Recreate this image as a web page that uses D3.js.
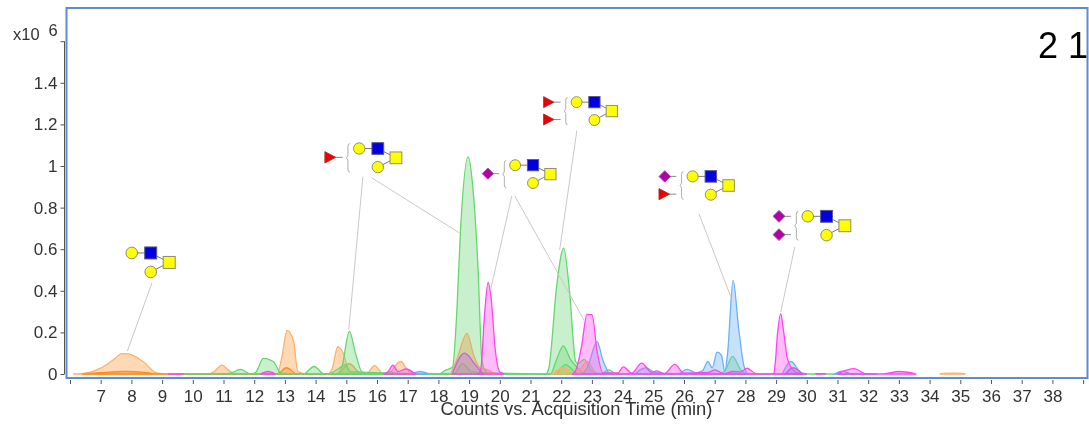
<!DOCTYPE html>
<html><head><meta charset="utf-8">
<script src="https://cdn.jsdelivr.net/npm/d3@7/dist/d3.min.js"></script>
<style>html,body{margin:0;padding:0;background:#fff;overflow:hidden}svg{display:block}
text{font-family:"Liberation Sans",Arial,sans-serif}</style></head><body>
<script>
// Tick labels
const xTicks = d3.range(6, 40);
const yTicks = [0, 0.2, 0.4, 0.6, 0.8, 1, 1.2, 1.4, 1.6];

// Chromatogram traces: [minutes, counts x10^6]; null marks a gap in a trace
const orangeMain = [[6.1,0],[6.5,.004],[7,.028],[7.4,.067],[7.7,.098],[7.9,.097],[8.38,.06],[8.83,.005],[9.2,0],[10.5,0],[10.7,.012],[10.95,.043],[11.15,.02],[11.4,0],[12.75,0],[12.9,.08],[13.07,.21],[13.28,.16],[13.42,.012],[13.7,0],[14.4,0],[14.55,.03],[14.72,.132],[14.9,.1],[15.1,.012],[15.3,0],[15.65,0],[15.92,.04],[16.2,.002],[16.45,.01],[16.62,.045],[16.78,.06],[17,.018],[17.3,0],[18.3,0]];
const orangeLow = [[6.4,0],[7,.006],[7.8,.012],[8.4,.008],[8.9,0],[12.75,0],[13.05,.03],[13.4,0],[14.7,0],[15.1,.05],[15.45,.004],[15.7,0]];
const orangeMid = [[18.4,0],[18.6,.07],[18.93,.195],[19.15,.09],[19.35,.03],[19.6,.02],[19.85,0]];
const orangeLate = [[21.7,0],[22.1,.03],[22.45,0],[22.6,.02],[22.85,.06],[23.1,.01],[23.3,0]];
const orangeTail = [[34.35,.002],[34.8,.004],[35.15,.002]];

const greenMain = [[9.7,0],[10.1,0],[11,0],[11.25,.005],[11.55,.022],[11.9,0],[12.05,.008],[12.3,.075],[12.62,.06],[12.88,.004],[13.6,0],[13.95,.036],[14.28,0],[14.7,.002],[14.85,.03],[15.1,.205],[15.3,.1],[15.5,.012],[15.7,0],[16.3,0],[16.45,.014],[16.6,0],[18,0],[18.25,.02],[18.46,.032],[18.6,.3],[18.72,.69],[18.97,1.045],[19.12,.9],[19.29,.51],[19.41,.08],[19.5,.02],[19.7,.002],[21.5,0],[21.6,.03],[21.85,.42],[22.08,.605],[22.27,.4],[22.47,.06],[22.55,.05],[22.75,.07],[23,.012],[23.3,.002],[23.55,.02],[23.8,0],[32.1,0]];
const greenB = [[14.45,0],[14.75,.025],[14.95,.045],[15.15,.01],[18.5,0],[18.78,.05],[19.1,.01],[21.65,0],[21.85,.07],[22.07,.135],[22.3,.07],[22.5,.035],[22.75,0]];
const greenC = [[21.85,0],[22.15,.045],[22.45,.01],[22.7,0],null,[27.2,0],[27.35,.02],[27.58,.085],[27.85,.02],[28.05,0]];

const blueMain = [[17.1,0],[17.4,.012],[17.7,0],null,[22.7,0],[22.85,.03],[23.17,.155],[23.35,.07],[23.55,.002],null,[24.4,0],[24.75,.03],[25.05,.008],[25.8,.002],[26.1,.022],[26.4,.006],[26.6,.015],[26.78,.06],[26.92,.03],[27.08,.105],[27.22,.09],[27.33,.012],[27.42,.1],[27.6,.45],[27.78,.22],[27.95,.04],[28.06,0],null,[29.2,0],[29.48,.06],[29.8,.008],[30,0],null,[30.9,0],[31.15,.014],[31.5,0],[32.3,0]];

const magentaMain = [[12.2,0],[12.45,.012],[12.7,0],null,[16.2,0],[16.35,.01],[16.52,.042],[16.68,.012],[16.95,.024],[17.25,0],null,[19.3,0],[19.38,.02],[19.5,.28],[19.62,.44],[19.72,.36],[19.85,.12],[20,.01],[20.15,0],null,[22.35,0],[22.45,.01],[22.66,.13],[22.84,.287],[23,.285],[23.18,.1],[23.36,.005],[23.85,.005],[24.02,.034],[24.3,.004],[24.62,.052],[24.95,.008],[25.12,.015],[25.35,.001],[25.7,.046],[26,.004],[26.8,.008],[27,.02],[27.3,.002],[27.6,.012],[27.85,.01],[28.05,.028],[28.35,.002],[28.9,0],[28.95,.02],[29.05,.2],[29.15,.29],[29.24,.21],[29.36,.08],[29.5,.03],[29.75,.004],[30,0],null,[30.3,.002],[30.6,.002],null,[31,.002],[31.55,.026],[31.9,.002],[32.5,.001],[33,.012],[33.55,.001]];
const magentaB = [[18.45,0],[18.85,.1],[19.2,.045],[19.45,0],null,[29.3,0],[29.55,.03],[29.85,0]];
const magentaDash = [[9.2,0],[9.7,0]];

// Glycan annotations anchored in chart units
const substituentSets = [[], ["fuc"], ["neu"], ["fuc","fuc"], ["neu","fuc"], ["neu","neu"]];
const glycanTimes = [8.01, 15.42, 20.5, 22.5, 26.28, 30.03];
const glycanLevels = [.582, 1.084, 1.004, 1.307, .95, .758];
const glycanScales = [1, .98, .94, .94, .96, .99];
const leaderTimes = [[8.67,7.87],[15.54,15.08],[15.83,18.69],[20.39,19.7],[20.49,22.74],[22.51,21.95],[26.49,27.53],[29.61,29.15]];
const leaderLevels = [[.438,.111],[.948,.212],[.943,.678],[.856,.404],[.856,.26],[1.17,.596],[.77,.369],[.611,.298]];
const cornerLabel = "2 1";
const xTitle = "Counts vs. Acquisition Time (min)";

const W = 1089, H = 424;
const x = d3.scaleLinear().domain([6, 39]).range([70.0, 1083.1]);
const y = d3.scaleLinear().domain([0, 1.6]).range([374, 41.2]);

const svg = d3.select("body").append("svg").attr("width", W).attr("height", H);
const defs = svg.append("defs");
defs.append("filter").attr("id","soft").attr("x","-5%").attr("y","-5%").attr("width","110%").attr("height","110%")
  .append("feGaussianBlur").attr("stdDeviation", .55);
defs.append("clipPath").attr("id","frameClip").append("rect").attr("x",0).attr("y",0).attr("width",1087).attr("height",H);

const root = svg.append("g").attr("filter","url(#soft)");

// frame
root.append("rect").attr("x",66.5).attr("y",8).attr("width",1021).attr("height",370)
  .attr("fill","#fff").attr("stroke","#5f8bd6").attr("stroke-width",2);

// axes
const gx = root.append("g").attr("transform","translate(0,380)")
  .call(d3.axisBottom(x).tickValues(xTicks).tickSize(4).tickPadding(6).tickFormat(d => (d>=7 && d<=38) ? d : ""));
gx.select(".domain").remove();
gx.selectAll("line").attr("stroke","#555");
gx.selectAll("text").attr("font-size",17).attr("fill","#333").style("font-family",'"Liberation Sans"');

const gy = root.append("g").attr("transform","translate(64.5,0)")
  .call(d3.axisLeft(y).tickValues(yTicks).tickSize(4).tickPadding(3).tickFormat(d => d===1.6 ? "" : d));
gy.select(".domain").attr("stroke","#555").attr("d",`M0,${y(1.6)}V${y(0)}`);
gy.selectAll("line").attr("stroke","#555");
gy.selectAll("text").attr("font-size",17).attr("fill","#333").style("font-family",'"Liberation Sans"');

const xLabel = root.append("text").attr("y",40).attr("font-size",16.5).attr("fill","#333");
xLabel.append("tspan").attr("x",13).text("x10");
xLabel.append("tspan").attr("x",48.5).attr("y",36).text("6");

root.append("text").attr("x",576.5).attr("y",415).attr("text-anchor","middle").attr("font-size",18.4).attr("fill","#333").text(xTitle);

root.append("text").attr("x",1038).attr("y",58).attr("font-size",36).attr("fill","#000").attr("clip-path","url(#frameClip)").text(cornerLabel);

// traces
const area = d3.area().defined(d=>d).x(d=>x(d[0])).y0(y(0)).y1(d=>y(d[1])).curve(d3.curveMonotoneX);
const orange = {fill:"#ffa550", stroke:"#ffb066"};
const green = {fill:"#7fdc85", stroke:"#66d66e"};
const blue = {fill:"#7db8f5", stroke:"#6bb2f7"};
const magenta = {fill:"#ff60ee", stroke:"#ff45ee"};
const layers = [
  [orangeMain,orange],[orangeLow,{fill:"#ff9a3c",stroke:"#ff8c1a"}],[orangeTail,orange],
  [greenMain,green],[greenB,green],[greenC,green],
  [orangeMid,{fill:"#e0a860",stroke:"#e8ae60"}],[orangeLate,orange],
  [blueMain,blue],[magentaMain,magenta],[magentaB,{fill:"#c070d8",stroke:"#c860e0"}],[magentaDash,magenta]
];
root.append("g").selectAll("path").data(layers).join("path")
  .attr("d",d=>area(d[0]))
  .attr("fill",d=>d[1].fill).attr("fill-opacity",.42)
  .attr("stroke",d=>d[1].stroke).attr("stroke-width",1.3);

// leaders
const leaders = leaderTimes.map((t,i)=>({t,v:leaderLevels[i]}));
root.append("g").selectAll("line").data(leaders).join("line")
  .attr("x1",d=>x(d.t[0])).attr("x2",d=>x(d.t[1]))
  .attr("y1",d=>y(d.v[0])).attr("y2",d=>y(d.v[1]))
  .attr("stroke","#c9c9c9").attr("stroke-width",1);

// glycans
const ink = "#8a8a70";
function glycan(g, subs){
  g.append("path").attr("d","M0,0H19L37.5,9.5L19,19").attr("fill","none").attr("stroke","#777").attr("stroke-width",1);
  const circ=(cx,cy)=>g.append("circle").attr("cx",cx).attr("cy",cy).attr("r",5.8).attr("fill","#ffff00").attr("stroke",ink);
  circ(0,0); circ(19,19);
  g.append("rect").attr("x",13).attr("y",-6).attr("width",12).attr("height",12).attr("fill","#0000e0").attr("stroke","#5a5a90");
  g.append("rect").attr("x",31.5).attr("y",3.5).attr("width",12).attr("height",12).attr("fill","#ffff00").attr("stroke",ink);
  if(!subs.length) return;
  const ys = subs.length===1 ? [9] : [0,18.5];
  g.append("path").attr("d",`M-9.5,-5Q-11.5,-5 -11.5,-2V7L-13,9.5L-11.5,12V21Q-11.5,24 -9.5,24`).attr("fill","none").attr("stroke","#aaa").attr("stroke-width",1);
  subs.forEach((s,i)=>{
    const sy=ys[i];
    g.append("line").attr("x1",-29).attr("x2",-17).attr("y1",sy).attr("y2",sy).attr("stroke","#888");
    if(s==="fuc") g.append("path").attr("d",`M-35,${sy-5.8}L-24,${sy}L-35,${sy+5.8}Z`).attr("fill","#ee0000").attr("stroke","#a33");
    else g.append("path").attr("d",`M-29,${sy-6}L-23,${sy}L-29,${sy+6}L-35,${sy}Z`).attr("fill","#b000a8").attr("stroke","#a050a0");
  });
}
glycanTimes.forEach((t,i)=>{
  const g=root.append("g").attr("transform",`translate(${x(t)},${y(glycanLevels[i])}) scale(${glycanScales[i]})`);
  glycan(g,substituentSets[i]);
});
</script></body></html>
